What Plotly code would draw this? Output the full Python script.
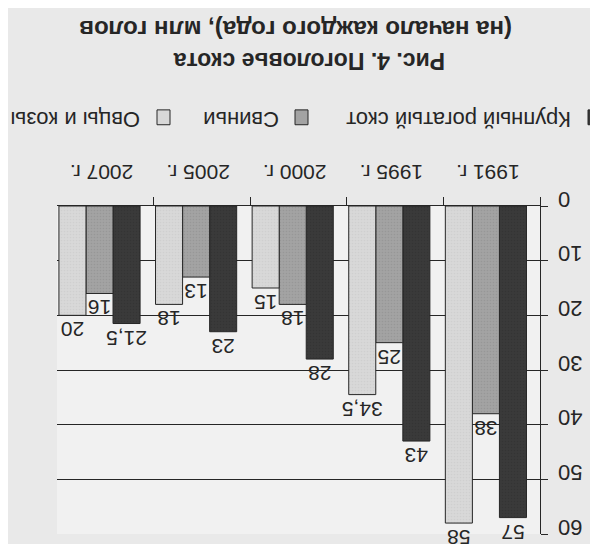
import plotly.graph_objects as go

# data (млн голов, на начало года)
years = ["1991 г.", "1995 г.", "2000 г.", "2005 г.", "2007 г."]
cattle = [57, 43, 28, 23, 21.5]
pigs = [38, 25, 18, 13, 16]
sheep = [58, 34.5, 15, 18, 20]
series_names = ["Крупный рогатый скот", "Свиньи", "Овцы и козы"]
y_ticks = [0, 10, 20, 30, 40, 50, 60]

W, H = 598, 544
L, R, T, B = 49, 532, 198, 529  # plot area in px
FONT = "Liberation Sans, Arial, sans-serif"
INK = "#262626"
COLORS = ["#3a3a3a", "#a3a3a3", "#d8d8d8"]
DOTS = ["#2e2e2e", "#8c8c8c", "#c6c6c6"]  # halftone-like stipple of the print
OFFSETS = [-0.36, -0.08, 0.20]


def px(x):
    return (x - L) / (R - L)


def py(y):
    return (B - y) / (B - T)


def fmt(v):
    return f"{v:g}".replace(".", ",")


fig = go.Figure()
for name, vals, col, dot, off in zip(series_names, [cattle, pigs, sheep], COLORS, DOTS, OFFSETS):
    fig.add_trace(go.Bar(
        x=years, y=vals, name=name, width=0.28, offset=off,
        marker=dict(color=col, line=dict(color=INK, width=1),
                    pattern=dict(shape=".", size=3, solidity=0.25,
                                 fgcolor=dot, bgcolor=col)),
        text=[fmt(v) for v in vals], textposition="outside", textangle=180,
        constraintext="none",
        textfont=dict(family=FONT, size=21, color=INK),
        cliponaxis=False, showlegend=False,
    ))

# upside-down legend drawn by hand (the whole figure is printed rotated 180°)
legend_items = [(580, 565, series_names[0], COLORS[0]),
                (287, 273, series_names[1], COLORS[1]),
                (149, 134, series_names[2], COLORS[2])]
for sx, tx, label, col in legend_items:
    fig.add_shape(type="rect", xref="paper", yref="paper",
                  x0=px(sx), x1=px(sx + 13), y0=py(116), y1=py(101),
                  fillcolor=col, line=dict(color=INK, width=1))
    fig.add_annotation(xref="paper", yref="paper", x=px(tx), y=py(110),
                       xanchor="right", yanchor="middle", text=label, showarrow=False,
                       textangle=180, font=dict(family=FONT, size=22, color=INK))

fig.add_annotation(xref="paper", yref="paper", x=px(301), y=py(51),
                   xanchor="center", yanchor="middle", showarrow=False, textangle=180,
                   text="<b>Рис. 4. Поголовье скота</b>",
                   font=dict(family=FONT, size=23, color=INK))
fig.add_annotation(xref="paper", yref="paper", x=px(288), y=py(20),
                   xanchor="center", yanchor="middle", showarrow=False, textangle=180,
                   text="<b>(на начало каждого года), млн голов</b>",
                   font=dict(family=FONT, size=24, color=INK))

fig.update_layout(
    width=W, height=H,
    margin=dict(l=L, r=W - R, t=T, b=H - B, pad=0),
    paper_bgcolor="#e9e9e9", plot_bgcolor="#f1f1f1",
    barmode="overlay", showlegend=False,
    font=dict(family=FONT, color=INK),
    xaxis=dict(
        type="category", range=[4.5, -0.5], side="top",
        ticks="outside", tickson="boundaries", ticklen=8, tickcolor=INK,
        showline=True, linecolor=INK, linewidth=1, showgrid=False,
        tickangle=180, ticklabelshift=-28, ticklabelstandoff=11,
        tickfont=dict(family=FONT, size=21, color=INK),
    ),
    yaxis=dict(
        range=[60, 0], side="right",
        tickvals=y_ticks,
        ticktext=[f"{v:\u2007>2}" for v in y_ticks],
        ticks="outside", ticklen=7, tickcolor=INK,
        showline=True, linecolor=INK, linewidth=1,
        showgrid=True, gridcolor=INK, gridwidth=1, zeroline=False,
        tickangle=180, ticklabelstandoff=30,
        tickfont=dict(family=FONT, size=22, color=INK),
    ),
)

fig.write_html("out.html")
